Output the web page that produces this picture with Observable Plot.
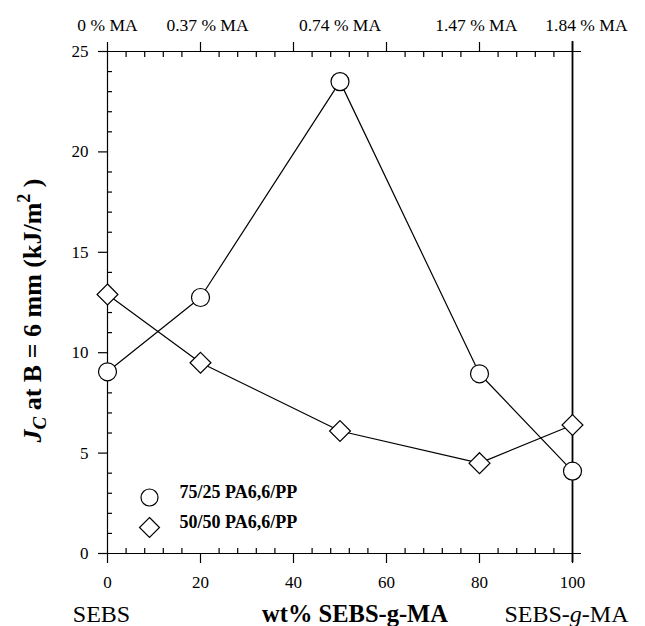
<!DOCTYPE html>
<html><head><meta charset="utf-8">
<script src="https://cdn.jsdelivr.net/npm/d3@7"></script>
<script src="https://cdn.jsdelivr.net/npm/@observablehq/plot@0.6"></script>
<style>
html,body{margin:0;padding:0;background:#fff}
#chart svg{display:block}
#chart svg, #chart svg text, #chart svg tspan{font-family:"Liberation Serif", serif !important;}
</style>
</head><body><div id="chart"></div>
<script>
// ---- data ----
const wtPct = [0, 20, 50, 80, 100];
const jc7525 = [9.05, 12.75, 23.5, 8.95, 4.1];
const jc5050 = [12.9, 9.5, 6.1, 4.5, 6.4];
const seriesNames = ["75/25 PA6,6/PP", "50/50 PA6,6/PP"];
const maLabels = ["0 % MA", "0.37 % MA", "0.74 % MA", "1.47 % MA", "1.84 % MA"];
const maLabelPos = [0, 21.5, 50, 79.3, 103];
const xMajorTicks = [0, 20, 40, 60, 80, 100];
const xMinorTicks = [4, 8, 12, 16, 24, 28, 32, 36, 44, 48, 52, 56, 64, 68, 72, 76, 84, 88, 92, 96];
const yMajorTicks = [0, 5, 10, 15, 20, 25];
const yMinorTicks = [1, 2, 3, 4, 6, 7, 8, 9, 11, 12, 13, 14, 16, 17, 18, 19, 21, 22, 23, 24];
const xTitle = "wt% SEBS-g-MA";
const yTitle = "JC at B = 6 mm (kJ/m2)";
const leftEnd = "SEBS";
const rightEnd = "SEBS-g-MA";

const rows7525 = wtPct.map((x, i) => ({x, y: jc7525[i]}));
const rows5050 = wtPct.map((x, i) => ({x, y: jc5050[i]}));
const maRows = maLabels.map((t, i) => ({t, x: maLabelPos[i]}));

const serif = "Liberation Serif, serif";
const lw = 1.2;

const svg = Plot.plot({
  width: 645,
  height: 626,
  marginLeft: 107,
  marginRight: 73,
  marginTop: 51,
  marginBottom: 73,
  style: {fontFamily: serif, background: "#fff", color: "#000"},
  x: {domain: [0, 100]},
  y: {domain: [0, 25]},
  marks: [
    // axis lines (frame)
    Plot.ruleX([0], {stroke: "#000", strokeWidth: lw}),
    Plot.ruleX([100], {stroke: "#000", strokeWidth: 1.8, insetTop: -10, insetBottom: -9}),
    Plot.ruleY([0, 25], {stroke: "#000", strokeWidth: lw, insetRight: -9}),
    // bottom axis
    Plot.axisX({anchor: "bottom", ticks: xMajorTicks, tickSize: 10, tickPadding: 12, fontSize: 17, strokeWidth: lw, label: null}),
    Plot.axisX({anchor: "bottom", ticks: xMinorTicks, tickSize: -5, tickFormat: () => "", strokeWidth: lw, label: null}),
    // top axis
    Plot.axisX({anchor: "top", ticks: xMajorTicks, tickSize: 10, tickFormat: () => "", strokeWidth: lw, label: null}),
    Plot.axisX({anchor: "top", ticks: xMinorTicks, tickSize: -5, tickFormat: () => "", strokeWidth: lw, label: null}),
    // left axis
    Plot.axisY({anchor: "left", ticks: yMajorTicks, tickSize: 9, tickPadding: 10, fontSize: 17, strokeWidth: lw, label: null}),
    Plot.axisY({anchor: "left", ticks: yMinorTicks, tickSize: -5, tickFormat: () => "", strokeWidth: lw, label: null}),
    // MA labels on top
    Plot.text(maRows, {x: "x", y: () => 25, text: "t", dy: -21, lineAnchor: "bottom", fontSize: 17.5, fill: "#000"}),
    // series
    Plot.line(rows7525, {x: "x", y: "y", stroke: "#000", strokeWidth: lw}),
    Plot.line(rows5050, {x: "x", y: "y", stroke: "#000", strokeWidth: lw}),
    Plot.dot(rows7525, {x: "x", y: "y", symbol: "circle", r: 9, fill: "#fff", stroke: "#000", strokeWidth: lw}),
    Plot.dot(rows5050, {x: "x", y: "y", symbol: "diamond2", r: 9.4, fill: "#fff", stroke: "#000", strokeWidth: lw}),
    // legend
    Plot.dot([seriesNames[0]], {frameAnchor: "bottom-left", dx: 42, dy: -56, symbol: "circle", r: 8.5, fill: "#fff", stroke: "#000", strokeWidth: lw}),
    Plot.dot([seriesNames[1]], {frameAnchor: "bottom-left", dx: 42, dy: -26, symbol: "diamond2", r: 9, fill: "#fff", stroke: "#000", strokeWidth: lw}),
    Plot.text([seriesNames[0]], {frameAnchor: "bottom-left", dx: 72, dy: -56, text: d => d, textAnchor: "start", fontSize: 18, fontWeight: "bold", fill: "#000"}),
    Plot.text([seriesNames[1]], {frameAnchor: "bottom-left", dx: 72, dy: -26, text: d => d, textAnchor: "start", fontSize: 18, fontWeight: "bold", fill: "#000"}),
    // axis titles
    Plot.text([yTitle], {frameAnchor: "left", textAnchor: "middle", dx: -75, dy: 8, rotate: -90, text: d => d, fontSize: 26, fontWeight: "bold", fill: "#000"}),
    Plot.text([xTitle], {frameAnchor: "bottom", textAnchor: "middle", dx: 15, dy: 68, lineAnchor: "bottom", text: d => d, fontSize: 24.5, fontWeight: "bold", fill: "#000"}),
    Plot.text([leftEnd], {x: 0, frameAnchor: "bottom", textAnchor: "middle", dx: -6, dy: 68, lineAnchor: "bottom", text: d => d, fontSize: 24, fill: "#000"}),
    Plot.text([rightEnd], {x: 100, frameAnchor: "bottom", textAnchor: "middle", dx: -6, dy: 68, lineAnchor: "bottom", text: d => d, fontSize: 24, fill: "#000"})
  ]
});

const root = d3.select(svg);
root.attr("font-family", serif);

// rich text for titles
root.selectAll("text").filter(function () { return this.textContent === yTitle; }).each(function () {
  const t = d3.select(this);
  t.text(null);
  t.append("tspan").attr("font-style", "italic").text("J");
  t.append("tspan").attr("font-style", "italic").attr("font-size", "19px").attr("dy", "5").text("C");
  t.append("tspan").attr("dy", "-5").text(" at B = 6 mm (kJ/m");
  t.append("tspan").attr("font-size", "18px").attr("dy", "-11").text("2");
  t.append("tspan").attr("dy", "11").text(" )");
});
root.selectAll("text").filter(function () { return this.textContent === rightEnd; }).each(function () {
  const t = d3.select(this);
  t.text(null);
  t.append("tspan").text("SEBS-");
  t.append("tspan").attr("font-style", "italic").text("g");
  t.append("tspan").text("-MA");
});

document.getElementById("chart").appendChild(svg);
</script>
</body></html>
